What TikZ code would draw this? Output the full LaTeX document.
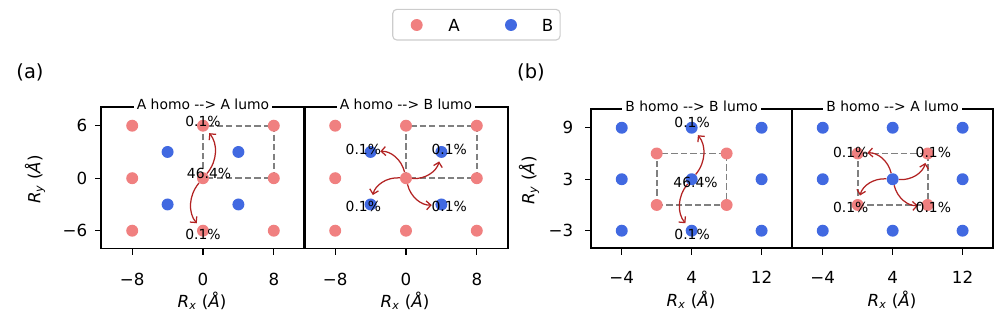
\documentclass[tikz,border=0pt]{standalone}
\usepackage{fontspec}
\setmainfont{DejaVu Sans}
\usetikzlibrary{arrows.meta}
\definecolor{lcoral}{HTML}{F08080}
\definecolor{rblue}{HTML}{4169E1}
\definecolor{fbrick}{HTML}{B22222}
\definecolor{cellgray}{HTML}{808080}
\definecolor{keygray}{HTML}{CCCCCC}

\begin{document}
\begin{tikzpicture}[x=0.72pt, y=-0.72pt,
        ptA/.style={circle, fill=lcoral, inner sep=0pt, minimum size=8.6pt},
        ptB/.style={circle, fill=rblue, inner sep=0pt, minimum size=8.6pt},
        arr/.style={-{Straight Barb[length=3.2pt,width=6.4pt]}, line width=0.9pt, fbrick, shorten >=2.5pt, bend right=40},
        cell/.style={cellgray, line width=1.25pt, dash pattern=on 4.6pt off 2.2pt},
        frame/.style={line width=1.3pt},
        tk/.style={line width=0.9pt},
        lbl/.style={inner sep=0pt, font=\fontsize{10}{12}\selectfont},
        ttl/.style={fill=white, inner xsep=2.2pt, inner ysep=1pt, font=\fontsize{10}{12}\selectfont},
        num/.style={inner sep=0pt, font=\fontsize{12}{14}\selectfont}]
      \useasboundingbox (0,0) rectangle (997,325);

      % legend
      \node[draw=keygray, line width=0.8pt, rounded corners=3pt, minimum width=120.5pt, minimum height=22.1pt] (key) at (476.4,24.7) {};
      \node[ptA] (keyA) at (416.7,25) {};
      \node[num] (keyAt) at (454,25) {A};
      \node[ptB] (keyB) at (511,25) {};
      \node[num] (keyBt) at (547.7,25) {B};

      % panel labels and axis labels
      \node[font=\fontsize{14}{16}\selectfont, inner sep=0pt] (pa) at (30,72) {(a)};
      \node[font=\fontsize{14}{16}\selectfont, inner sep=0pt] (pb) at (531,72) {(b)};
      \node[num, rotate=90] (ya) at (35,179.5) {\textit{R}\textsubscript{\textit{y}} (\textit{Å})};
      \node[num, rotate=90] (yb) at (529,180.5) {\textit{R}\textsubscript{\textit{y}} (\textit{Å})};
      \node[num] (xa1) at (202,301) {\textit{R}\textsubscript{\textit{x}} (\textit{Å})};
      \node[num] (xa2) at (405,301) {\textit{R}\textsubscript{\textit{x}} (\textit{Å})};
      \node[num] (xb1) at (691,300) {\textit{R}\textsubscript{\textit{x}} (\textit{Å})};
      \node[num] (xb2) at (892,300) {\textit{R}\textsubscript{\textit{x}} (\textit{Å})};

      % (a) A homo --> A lumo
      \begin{scope}[shift={(203,178.2)}, x=6.372pt, y=6.3pt]
        \draw[cell] (0,0) rectangle (8,6);
        \foreach \px [count=\i] in {-8,0,8}
          \foreach \py [count=\j] in {-6,0,6}
            \node[ptA] (p1A\i\j) at (\px,\py) {};
        \foreach \px [count=\i] in {-4,4}
          \foreach \py [count=\j] in {-3,3}
            \node[ptB] (p1B\i\j) at (\px,\py) {};
        \draw[arr] (p1A22) to (p1A23);
        \draw[arr] (p1A22) to (p1A21);
        \node[lbl] (l1t) at (0,6.45) {0.1\%};
        \node[lbl] (l1c) at (0.68,0.56) {46.4\%};
        \node[lbl] (l1b) at (0,-6.45) {0.1\%};
        \draw[frame] (-11.5,-8.03) rectangle (11.5,8.14);
        \node[ttl, yshift=2pt] (t1) at (0,8.14) {A homo -{}-> A lumo};
        \foreach \t/\s [count=\k] in {-8/−8,0/0,8/8} {
          \draw[tk] (\t,-8.03) -- ++(0pt,-4.5pt);
          \node[num, yshift=-22pt] (x1\k) at (\t,-8.03) {\s};
        }
        \foreach \t/\s [count=\k] in {-6/−6,0/0,6/6} {
          \draw[tk] (-11.5,\t) -- ++(-4.5pt,0pt);
          \node[num, anchor=east, xshift=-9.9pt] (y1\k) at (-11.5,\t) {\s};
        }
      \end{scope}

      % (a) A homo --> B lumo
      \begin{scope}[shift={(406,178.2)}, x=6.372pt, y=6.3pt]
        \draw[cell] (0,0) rectangle (8,6);
        \foreach \px [count=\i] in {-8,0,8}
          \foreach \py [count=\j] in {-6,0,6}
            \node[ptA] (p2A\i\j) at (\px,\py) {};
        \foreach \px [count=\i] in {-4,4}
          \foreach \py [count=\j] in {-3,3}
            \node[ptB] (p2B\i\j) at (\px,\py) {};
        \draw[arr] (p2A22) to (p2B12);
        \draw[arr] (p2A22) to (p2B22);
        \draw[arr] (p2A22) to (p2B11);
        \draw[arr] (p2A22) to (p2B21);
        \node[lbl] (l2a) at (-4.82,3.3) {0.1\%};
        \node[lbl] (l2b) at (4.88,3.3) {0.1\%};
        \node[lbl] (l2c) at (-4.82,-3.18) {0.1\%};
        \node[lbl] (l2d) at (4.88,-3.18) {0.1\%};
        \draw[frame] (-11.5,-8.03) rectangle (11.5,8.14);
        \node[ttl, yshift=2pt] (t2) at (0,8.14) {A homo -{}-> B lumo};
        \foreach \t/\s [count=\k] in {-8/−8,0/0,8/8} {
          \draw[tk] (\t,-8.03) -- ++(0pt,-4.5pt);
          \node[num, yshift=-22pt] (x2\k) at (\t,-8.03) {\s};
        }
      \end{scope}

      % (b) B homo --> B lumo
      \begin{scope}[shift={(656.7,204.96)}, x=6.293pt, y=6.178pt]
        \draw[cell] (0,0) rectangle (8,6);
        \foreach \px [count=\i] in {-4,4,12}
          \foreach \py [count=\j] in {-3,3,9}
            \node[ptB] (p3B\i\j) at (\px,\py) {};
        \foreach \px [count=\i] in {0,8}
          \foreach \py [count=\j] in {0,6}
            \node[ptA] (p3A\i\j) at (\px,\py) {};
        \draw[arr] (p3B22) to (p3B23);
        \draw[arr] (p3B22) to (p3B21);
        \node[lbl] (l3t) at (4.05,9.6) {0.1\%};
        \node[lbl] (l3c) at (4.44,2.62) {46.4\%};
        \node[lbl] (l3b) at (4.05,-3.38) {0.1\%};
        \draw[frame] (-7.5,-5.05) rectangle (15.5,11.18);
        \node[ttl, yshift=2.2pt] (t3) at (4,11.18) {B homo -{}-> B lumo};
        \foreach \t/\s [count=\k] in {-4/−4,4/4,12/12} {
          \draw[tk] (\t,-5.05) -- ++(0pt,-4.5pt);
          \node[num, yshift=-21pt] (x3\k) at (\t,-5.05) {\s};
        }
        \foreach \t/\s [count=\k] in {-3/−3,3/3,9/9} {
          \draw[tk] (-7.5,\t) -- ++(-4.5pt,0pt);
          \node[num, anchor=east, xshift=-12.7pt] (y3\k) at (-7.5,\t) {\s};
        }
      \end{scope}

      % (b) B homo --> A lumo
      \begin{scope}[shift={(857.7,204.96)}, x=6.293pt, y=6.178pt]
        \draw[cell] (0,0) rectangle (8,6);
        \foreach \px [count=\i] in {-4,4,12}
          \foreach \py [count=\j] in {-3,3,9}
            \node[ptB] (p4B\i\j) at (\px,\py) {};
        \foreach \px [count=\i] in {0,8}
          \foreach \py [count=\j] in {0,6}
            \node[ptA] (p4A\i\j) at (\px,\py) {};
        \draw[arr] (p4B22) to (p4A12);
        \draw[arr] (p4B22) to (p4A22);
        \draw[arr] (p4B22) to (p4A11);
        \draw[arr] (p4B22) to (p4A21);
        \node[lbl] (l4a) at (-0.79,6.17) {0.1\%};
        \node[lbl] (l4b) at (8.65,6.17) {0.1\%};
        \node[lbl] (l4c) at (-0.79,-0.26) {0.1\%};
        \node[lbl] (l4d) at (8.65,-0.26) {0.1\%};
        \draw[frame] (-7.5,-5.05) rectangle (15.5,11.18);
        \node[ttl, yshift=2.2pt] (t4) at (4,11.18) {B homo -{}-> A lumo};
        \foreach \t/\s [count=\k] in {-4/−4,4/4,12/12} {
          \draw[tk] (\t,-5.05) -- ++(0pt,-4.5pt);
          \node[num, yshift=-21pt] (x4\k) at (\t,-5.05) {\s};
        }
      \end{scope}
      \end{tikzpicture}
\end{document}
